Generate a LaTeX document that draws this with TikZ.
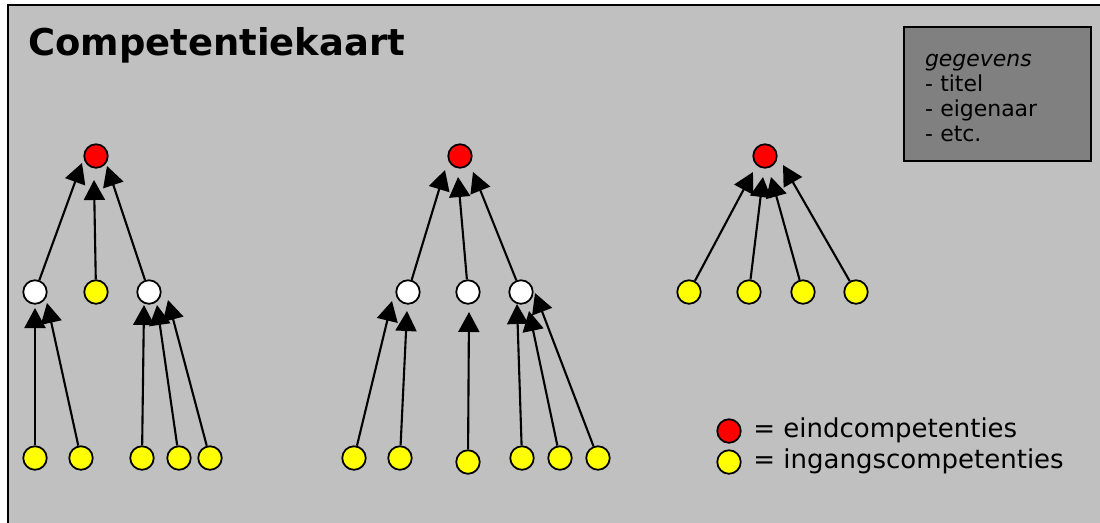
\documentclass[tikz,border=0pt]{standalone}
\usepackage{fontspec}
\setmainfont{DejaVu Sans}
\usetikzlibrary{arrows.meta,calc}
\definecolor{kaartgrijs}{HTML}{C0C0C0}
\definecolor{vakgrijs}{HTML}{808080}
\definecolor{eindrood}{HTML}{FF0000}
\definecolor{ingangsgeel}{HTML}{FFFF00}

\begin{document}
\begin{tikzpicture}[x=0.02cm, y=-0.02cm,
        bol/.style={circle, draw, line width=1pt, minimum size=0.47cm, inner sep=0pt},
        eind/.style={bol, fill=eindrood},
        tussen/.style={bol, fill=white},
        ingang/.style={bol, fill=ingangsgeel},
        pijl/.style={-{Triangle[length=0.4cm, width=0.42cm]}, line width=1.2pt},
        databox/.style={draw, line width=0.8pt, fill=vakgrijs, text width=2.9cm, align=left,
            minimum width=3.74cm, minimum height=2.68cm, inner xsep=0.42cm, inner ysep=0pt,
            font=\fontsize{12.5}{14.2}\selectfont},
        legenda/.style={anchor=base west, inner sep=0pt, font=\fontsize{14.8}{17}\selectfont}]
                            \useasboundingbox (0,0) rectangle (1100,522);
                            \draw [line width=1.1pt, fill=kaartgrijs] (8,5) rectangle (1112,534);
                            \node [anchor=base west, inner sep=0pt, font=\fontsize{21}{25}\selectfont\bfseries] (titel) at (28,55) {Competentiekaart};
                            \node [databox] (gegevens) at (997.5,94) {\rule{0pt}{12pt}\textit{gegevens}\\- titel\\- eigenaar\\- etc.};

                            \node [eind] (e1) at (96,156) {};
                            \node [tussen] (t1a) at (35,292) {};
                            \node [ingang] (i1m) at (96,292) {};
                            \node [tussen] (t1b) at (149,292) {};
                            \foreach \naam/\x in {i1a/35,i1b/81,i1c/142,i1d/179,i1e/210}
                                \node [ingang] (\naam) at (\x,458) {};

                            \node [eind] (e2) at (460,156) {};
                            \foreach \naam/\x in {t2a/408,t2b/468,t2c/521}
                                \node [tussen] (\naam) at (\x,292) {};
                            \foreach \naam/\x/\y in {i2a/354/458,i2b/400/458,i2c/468/462,i2d/522/458,i2e/560/458,i2f/598/458}
                                \node [ingang] (\naam) at (\x,\y) {};

                            \node [eind] (e3) at (765,156) {};
                            \foreach \naam/\x in {i3a/689,i3b/749,i3c/803,i3d/856}
                                \node [ingang] (\naam) at (\x,292) {};

                            \foreach \van/\naar/\dx/\dy in {t1a/e1/-14/7,i1m/e1/-2/24,t1b/e1/11/10,
                                i1a/t1a/0/16,i1b/t1a/12/11,i1c/t1b/-5/13,i1d/t1b/8/13,i1e/t1b/19/8,
                                t2a/e2/-15/14,t2b/e2/-2/21,t2c/e2/13/16,
                                i2a/t2a/-16/9,i2b/t2a/-1/19,i2c/t2b/1/20,i2d/t2c/-4/12,i2e/t2c/8/19,i2f/t2c/14/1,
                                i3a/e3/-12/16,i3b/e3/-2/21,i3c/e3/6/21,i3d/e3/18/9}
                            {
                                \draw [pijl] (\van) -- ($(\naar)+(\dx,\dy)$);
                            }

                            \node [eind] (leind) at (729,431) {};
                            \node [ingang] (lingang) at (729,462) {};
                            \node [legenda] (teind) at (753,437) {= eindcompetenties};
                            \node [legenda] (tingang) at (753,468) {= ingangscompetenties};
                        \end{tikzpicture}
\end{document}
